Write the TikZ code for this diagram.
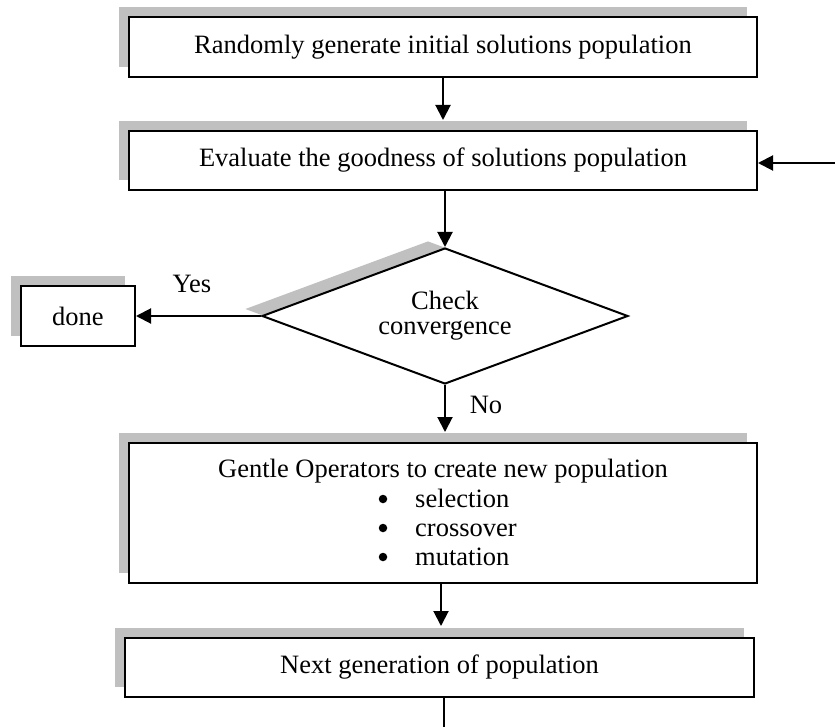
\documentclass[tikz,border=0pt]{standalone}
\usepackage{fontspec}
\setmainfont{Liberation Serif}
\usetikzlibrary{arrows.meta,shapes.geometric,shadows,calc}
\definecolor{shadowgray}{HTML}{C0C0C0}
\tikzset{
  boxshadow/.style={general shadow={shadow xshift=-10pt,shadow yshift=10pt,fill=shadowgray}},
  flowbox/.style={draw=black,line width=2pt,fill=white,rectangle,inner sep=0pt,boxshadow},
  decision/.style={draw=black,line width=2pt,fill=white,diamond,inner sep=0pt,align=center,
    shape aspect=2.69,
    general shadow={shadow xshift=-17pt,shadow yshift=7pt,fill=shadowgray}},
  arr/.style={line width=2pt,-{Triangle[length=15pt,width=15pt]}},
  plain/.style={line width=2pt},
  lbl/.style={inner sep=0pt},
  bul/.style={circle,fill=black,inner sep=0pt,minimum size=8.5pt}
}
\begin{document}
\begin{tikzpicture}[x=1pt,y=-1pt,font=\fontsize{26.5}{29.5}\selectfont]
\useasboundingbox (0,0) rectangle (835,727);
% boxes
\node[flowbox,minimum width=628pt,minimum height=60pt] (b1) at (443,47) {Randomly generate initial solutions population};
\node[flowbox,minimum width=628pt,minimum height=59pt] (b2) at (443,160.5) {Evaluate the goodness of solutions population};
\node[decision,minimum width=366pt,minimum height=136pt,font=\fontsize{26.5}{25}\selectfont] (d) at (445,316) {Check\\convergence};
\node[flowbox,minimum width=114pt,minimum height=60pt] (done) at (78,316) {done};
\node[flowbox,minimum width=628pt,minimum height=140pt] (b3) at (443,513) {};
\node[flowbox,minimum width=629pt,minimum height=59pt] (b4) at (439.5,667.5) {Next generation of population};
% texts in box 3
\node[lbl,anchor=base] (t3) at (443,477) {Gentle Operators to create new population};
\node[bul] (p1) at (383,499) {};
\node[lbl,anchor=base west] (s1) at (415,507) {selection};
\node[bul] (p2) at (383,528) {};
\node[lbl,anchor=base west] (s2) at (415,536) {crossover};
\node[bul] (p3) at (383,557) {};
\node[lbl,anchor=base west] (s3) at (415,565) {mutation};
% labels
\node[lbl,anchor=base] (yes) at (192,293) {Yes};
\node[lbl,anchor=base] (no) at (486,413) {No};
% connectors
\coordinate (fb) at (835,163);
\coordinate (endb) at (444,727);
\draw[arr] (b1.south) -- ($(b2.north)+(0,-10)$);
\draw[arr] (b2.south -| d.north) -- (d.north);
\draw[arr] (d.west) -- (done.east);
\draw[arr] (d.south) -- ($(b3.north -| d.south)+(0,-10)$);
\draw[arr] (b3.south -| 441,0) -- ($(b4.north -| 441,0)+(0,-11)$);
\draw[arr] (fb) -- (fb -| b2.east);
\draw[plain] (b4.south -| endb) -- (endb);
\end{tikzpicture}
\end{document}
